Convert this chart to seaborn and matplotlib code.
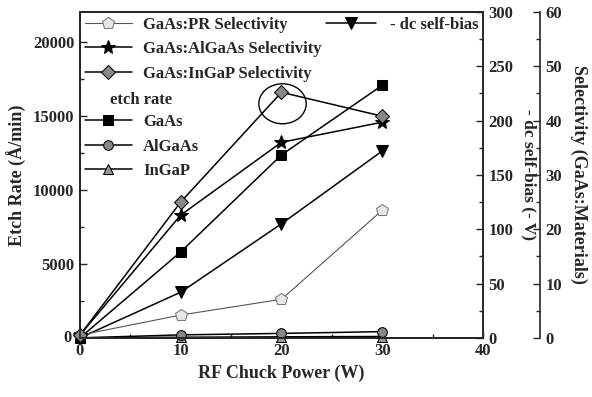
import seaborn as sns
import matplotlib.pyplot as plt
from matplotlib.patches import Ellipse
from matplotlib.lines import Line2D

# data
power = [0, 10, 20, 30]
etch_gaas = [0, 5800, 12350, 17050]
etch_algaas = [0, 200, 300, 420]
etch_ingap = [0, 40, 70, 90]
dc_bias = [0, 42, 105, 172]
sel_pr = [0.5, 4.2, 7.1, 23.5]
sel_algaas = [0.5, 22.6, 36.0, 39.7]
sel_ingap = [0.5, 25.0, 45.2, 40.8]

sns.set_style("ticks")
plt.rcParams['font.family'] = ['Liberation Serif', 'DejaVu Serif']
plt.rcParams['font.weight'] = 'bold'
plt.rcParams['axes.labelweight'] = 'bold'
plt.rcParams['xtick.direction'] = 'in'
plt.rcParams['ytick.direction'] = 'in'

fig = plt.figure(figsize=(5.92, 3.97), dpi=100)
ax1 = fig.add_axes([0.135, 0.149, 0.681, 0.821])
ax2 = ax1.twinx()
ax3 = ax1.twinx()
ax3.spines['right'].set_position(('outward', 57 * 72 / 100))

kw = dict(color='black', linewidth=1.1, markersize=7, markeredgecolor='black', clip_on=False)

# etch rate (left axis)
sns.lineplot(x=power, y=etch_ingap, ax=ax1, marker='^', markerfacecolor='#999999', label='InGaP', **kw)
sns.lineplot(x=power, y=etch_algaas, ax=ax1, marker='o', markerfacecolor='#888888', label='AlGaAs', **kw)
sns.lineplot(x=power, y=etch_gaas, ax=ax1, marker='s', markerfacecolor='black', label='GaAs', **kw)

# dc self-bias (first right axis)
sns.lineplot(x=power, y=dc_bias, ax=ax2, marker='v', markerfacecolor='black',
             markersize=9, color='black', linewidth=1.1, markeredgecolor='black',
             clip_on=False, label='- dc self-bias')

# selectivity (second right axis)
sns.lineplot(x=power, y=sel_pr, ax=ax3, marker='p', markerfacecolor='#e6e6e6', color='#555555',
             linewidth=0.8, markersize=9, markeredgecolor='#777777', clip_on=False,
             label='GaAs:PR Selectivity')
sns.lineplot(x=power, y=sel_algaas, ax=ax3, marker='*', markerfacecolor='black',
             color='black', linewidth=1.1, markersize=10, markeredgecolor='black',
             clip_on=False, label='GaAs:AlGaAs Selectivity')
sns.lineplot(x=power, y=sel_ingap, ax=ax3, marker='D', markerfacecolor='#888888',
             color='black', linewidth=1.1, markersize=7, markeredgecolor='black',
             clip_on=False, label='GaAs:InGaP Selectivity')

for a in (ax1, ax2, ax3):
    leg = a.get_legend()
    if leg:
        leg.remove()

ax1.set_xlim(0, 40)
ax1.set_ylim(0, 22000)
ax1.set_xticks([0, 10, 20, 30, 40])
ax1.set_xticks([5, 15, 25, 35], minor=True)
ax1.set_yticks([5000, 10000, 15000, 20000])
ax1.set_yticks([2500, 7500, 12500, 17500], minor=True)
ax1.set_xlabel('RF Chuck Power (W)', fontsize=13)
ax1.set_ylabel('Etch Rate (Å/min)', fontsize=13)
ax1.text(-0.8, 0, '0', ha='right', va='center', fontsize=12)

ax2.set_ylim(0, 300)
ax2.set_yticks(range(0, 301, 50))
ax2.set_yticks(range(25, 300, 50), minor=True)
ax2.set_ylabel('- dc self-bias (- V)', fontsize=12.5, rotation=270, va='center')
ax2.yaxis.set_label_coords(1.114, 0.5)

ax3.set_ylim(0, 60)
ax3.set_yticks(range(0, 61, 10))
ax3.set_yticks(range(5, 60, 10), minor=True)
ax3.set_ylabel('Selectivity (GaAs:Materials)', fontsize=13, rotation=270, labelpad=18)

for a in (ax1, ax2, ax3):
    a.tick_params(which='major', length=5, width=1, labelsize=12, pad=4)
    a.tick_params(which='minor', length=3, width=1)
    for s in a.spines.values():
        s.set_linewidth(1.2)

# circle around the GaAs:InGaP point at 20 W
ax1.add_patch(Ellipse((20.1, 15800), 4.7, 2700, fill=False, edgecolor='black', linewidth=1))

h = {l.get_label(): l for a in (ax1, ax2, ax3) for l in a.get_lines()}
blank = Line2D([], [], linestyle='none', marker='none')
order = ['GaAs:PR Selectivity', 'GaAs:AlGaAs Selectivity', 'GaAs:InGaP Selectivity']
order2 = ['GaAs', 'AlGaAs', 'InGaP']
handles = [h[k] for k in order] + [blank] + [h[k] for k in order2]
labels = order + [' '] + order2
lg = ax3.legend(handles, labels, loc='upper left', frameon=False, fontsize=12,
                handlelength=2.8, labelspacing=0.5, borderaxespad=0.0, borderpad=0.3,
                handletextpad=0.7, bbox_to_anchor=(0.0, 1.0))
ax3.add_artist(lg)
ax3.text(0.075, 0.73, 'etch rate', transform=ax1.transAxes, fontsize=12, va='center')
ax3.legend([h['- dc self-bias']], ['- dc self-bias'], loc='upper right', frameon=False,
           fontsize=12, handlelength=3.0, borderaxespad=0.0, borderpad=0.3,
           bbox_to_anchor=(1.0, 1.0))

fig.savefig('out.png', dpi=100)
